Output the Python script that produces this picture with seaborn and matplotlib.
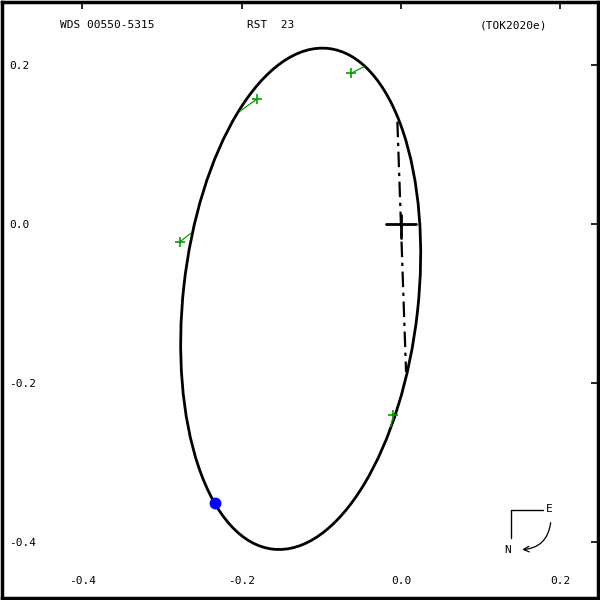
import numpy as np
import pandas as pd
import matplotlib
matplotlib.use("Agg")
import matplotlib.pyplot as plt
from matplotlib.patches import Ellipse
import seaborn as sns

# --- data ------------------------------------------------------------------
# orbit ellipse (centre, full axes, tilt in degrees)
orbit_center = (-0.126, -0.094)
orbit_width = 0.633
orbit_height = 0.295
orbit_angle = 83.7

# measured positions and their predicted points on the orbit
obs_x = [-0.0628, -0.181, -0.278, -0.0097]
obs_y = [0.1894, 0.157, -0.0226, -0.240]
fit_x = [-0.0465, -0.202, -0.264, -0.013]
fit_y = [0.1977, 0.142, -0.0117, -0.255]

# line of nodes end points
node_x = [-0.0046, 0.0063]
node_y = [0.1286, -0.186]

# current position
now_x = [-0.2335]
now_y = [-0.3503]

xticks = [-0.4, -0.2, 0.0, 0.2]
yticks = [-0.4, -0.2, 0.0, 0.2]
header = ["WDS 00550-5315", "RST  23", "(TOK2020e)"]
header_x = [-0.428, -0.193, 0.099]

GREEN = "#00a000"

sns.set_style("white")
plt.rcParams["font.family"] = ["DejaVu Sans Mono", "DejaVu Sans"]
plt.rcParams["axes.unicode_minus"] = False
plt.rcParams["text.color"] = "black"

fig = plt.figure(figsize=(6, 6), dpi=100)
ax = fig.add_axes([0.0033, 0.0033, 0.9934, 0.9934])
ax.set_xlim(-0.501, 0.2473)
ax.set_ylim(-0.470, 0.279)

# orbit
ax.add_patch(Ellipse(orbit_center, orbit_width, orbit_height, angle=orbit_angle,
                     fill=False, edgecolor="black", linewidth=2.0))

# line of nodes
ax.plot(node_x, node_y, color="black", linewidth=1.6,
        linestyle=(0, (7, 2.5, 1.5, 2.5)))

# primary star cross
ax.plot([-0.019, 0.019], [0, 0], color="black", linewidth=2.0)
ax.plot([0, 0], [-0.018, 0.011], color="black", linewidth=2.0)

# residual lines + observations
for ox, oy, fx, fy in zip(obs_x, obs_y, fit_x, fit_y):
    ax.plot([ox, fx], [oy, fy], color=GREEN, linewidth=0.9)
obs = pd.DataFrame({"x": obs_x, "y": obs_y})
sns.scatterplot(data=obs, x="x", y="y", marker="+", s=60, color=GREEN,
                linewidth=1.2, ax=ax, zorder=5)

# current position
ax.plot(now_x, now_y, "o", color="#0000ff", markersize=7.5, zorder=6)

# header text
for txt, hx in zip(header, header_x):
    ax.text(hx, 0.250, txt, fontsize=8, ha="left", va="center", color="black")

# axes / ticks
ax.set_xlabel("")
ax.set_ylabel("")
ax.set_xticks(xticks)
ax.set_yticks(yticks)
ax.set_xticklabels([f"{v:.1f}" for v in xticks])
ax.set_yticklabels([f"{v:.1f}" for v in yticks])
ax.tick_params(axis="both", direction="in", length=5, width=1.2,
               top=True, right=True, labelsize=8, colors="black",
               labelcolor="black")
ax.tick_params(axis="x", pad=-16)
ax.tick_params(axis="y", pad=-5)
for lbl in ax.get_yticklabels():
    lbl.set_horizontalalignment("left")
for sp in ax.spines.values():
    sp.set_visible(True)
    sp.set_linewidth(2.5)
    sp.set_color("black")

# compass
ax.plot([0.854, 0.908], [0.148, 0.148], color="black", linewidth=1,
        transform=ax.transAxes)
ax.plot([0.854, 0.854], [0.148, 0.101], color="black", linewidth=1,
        transform=ax.transAxes)
ax.text(0.919, 0.150, "E", transform=ax.transAxes, fontsize=8,
        ha="center", va="center", color="black")
ax.text(0.849, 0.080, "N", transform=ax.transAxes, fontsize=8,
        ha="center", va="center", color="black")
ax.annotate("", xy=(0.868, 0.081), xytext=(0.921, 0.131),
            xycoords="axes fraction",
            arrowprops=dict(arrowstyle="->", color="black", linewidth=0.9,
                            connectionstyle="arc3,rad=-0.45"))

fig.savefig("out.png", dpi=100)
